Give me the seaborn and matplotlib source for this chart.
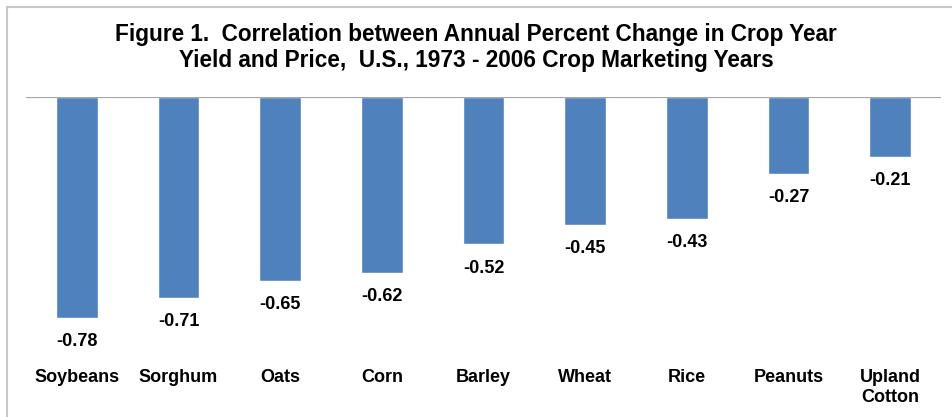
import numpy as np
import pandas as pd
import seaborn as sns
import matplotlib.pyplot as plt
from matplotlib.lines import Line2D

crops = ['Soybeans', 'Sorghum', 'Oats', 'Corn', 'Barley', 'Wheat', 'Rice', 'Peanuts', 'Upland\nCotton']
correlations = [-0.78, -0.71, -0.65, -0.62, -0.52, -0.45, -0.43, -0.27, -0.21]

BLUE = "#4F81BD"

sns.set_theme(style="white")
plt.rcParams['font.family'] = ['Liberation Sans', 'DejaVu Sans']
plt.rcParams['text.color'] = 'black'
plt.rcParams['xtick.color'] = 'black'

df = pd.DataFrame({'crop': crops, 'corr': correlations})

fig = plt.figure(figsize=(9.52, 4.17), dpi=100)
ax = fig.add_axes([26 / 952, 1 - 352 / 417, 915 / 952, 255 / 417])

sns.barplot(data=df, x='crop', y='corr', color=BLUE, saturation=1, width=0.41, ax=ax)
ax.set_ylim(-0.9, 0)
ax.set_xlim(-0.5, len(crops) - 0.5)

for sp in ax.spines.values():
    sp.set_visible(False)
ax.axhline(0, color='#A6A6A6', lw=1.6, zorder=5)
ax.set_yticks([])
ax.set_xlabel('')
ax.set_ylabel('')
ax.tick_params(axis='x', length=0, pad=12, labelcolor='black')
for lbl in ax.get_xticklabels():
    lbl.set_fontweight('bold')
    lbl.set_fontsize(13)
    lbl.set_verticalalignment('top')
    lbl.set_linespacing(1.25)

for i, v in enumerate(correlations):
    ax.annotate("{:.2f}".format(v), (i, v), xytext=(0, -11), textcoords='offset points',
                ha='center', va='top', fontsize=13, fontweight='bold', color='black')

fig.text(0.5, 1 - 34 / 417, "Figure 1.  Correlation between Annual Percent Change in Crop Year",
         ha='center', va='center', fontsize=16.3, fontweight='bold', color='black')
fig.text(0.5, 1 - 61 / 417, "Yield and Price,  U.S., 1973 - 2006 Crop Marketing Years",
         ha='center', va='center', fontsize=16.3, fontweight='bold', color='black')

# chart frame (only top and left edges inside the image)
fig.add_artist(Line2D([7 / 952, 7 / 952], [0, 1 - 7 / 417], transform=fig.transFigure,
                      color='#C8C8C8', lw=1.5))
fig.add_artist(Line2D([7 / 952, 1], [1 - 7 / 417, 1 - 7 / 417], transform=fig.transFigure,
                      color='#C8C8C8', lw=1.5))

fig.savefig('out.png', dpi=100)
